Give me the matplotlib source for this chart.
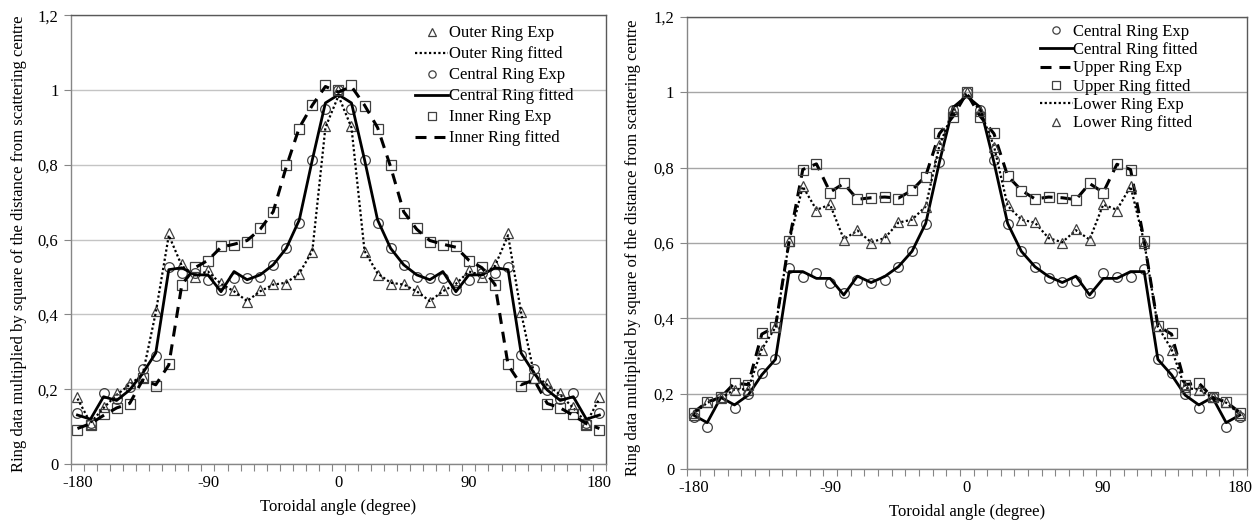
import matplotlib
matplotlib.use("Agg")
import matplotlib.pyplot as plt
from matplotlib.ticker import FixedLocator, FuncFormatter

plt.rcParams['font.family'] = ['Liberation Serif', 'DejaVu Serif']
plt.rcParams['font.size'] = 12
plt.rcParams['axes.unicode_minus'] = False

# toroidal angle categories, one per ring element
angles = list(range(-180, 181, 9))

# left chart: outer / central / inner rings
outer_exp = [0.180, 0.107, 0.153, 0.190, 0.216, 0.232, 0.410, 0.617, 0.535, 0.500, 0.520,
             0.485, 0.466, 0.433, 0.466, 0.482, 0.482, 0.508, 0.566, 0.905, 1.000,
             0.905, 0.566, 0.506, 0.482, 0.482, 0.466, 0.433, 0.466, 0.488, 0.520,
             0.500, 0.535, 0.617, 0.408, 0.229, 0.216, 0.190, 0.153, 0.107, 0.180]
outer_fit = [0.175, 0.110, 0.150, 0.185, 0.212, 0.240, 0.405, 0.612, 0.530, 0.505, 0.515,
             0.482, 0.462, 0.436, 0.462, 0.480, 0.485, 0.510, 0.570, 0.900, 0.985,
             0.900, 0.570, 0.510, 0.485, 0.480, 0.462, 0.436, 0.462, 0.482, 0.515,
             0.505, 0.530, 0.612, 0.405, 0.240, 0.212, 0.185, 0.150, 0.110, 0.175]
central_exp = [0.137, 0.110, 0.190, 0.175, 0.205, 0.254, 0.289, 0.527, 0.510, 0.510, 0.493,
               0.466, 0.497, 0.497, 0.500, 0.533, 0.577, 0.644, 0.814, 0.950, 1.000,
               0.950, 0.814, 0.644, 0.577, 0.533, 0.500, 0.497, 0.497, 0.466, 0.493,
               0.510, 0.510, 0.527, 0.292, 0.254, 0.198, 0.175, 0.190, 0.109, 0.137]
central_fit = [0.131, 0.120, 0.180, 0.170, 0.198, 0.243, 0.297, 0.520, 0.525, 0.506, 0.506,
               0.461, 0.515, 0.493, 0.506, 0.533, 0.577, 0.653, 0.814, 0.966, 0.988,
               0.966, 0.814, 0.653, 0.577, 0.533, 0.506, 0.493, 0.515, 0.461, 0.506,
               0.506, 0.525, 0.520, 0.297, 0.243, 0.198, 0.170, 0.180, 0.120, 0.131]
inner_exp = [0.091, 0.104, 0.133, 0.149, 0.160, 0.229, 0.210, 0.267, 0.479, 0.528, 0.542,
             0.582, 0.585, 0.595, 0.631, 0.673, 0.799, 0.896, 0.961, 1.015, 1.000,
             1.015, 0.958, 0.896, 0.800, 0.671, 0.631, 0.595, 0.585, 0.582, 0.542,
             0.527, 0.479, 0.267, 0.210, 0.229, 0.160, 0.149, 0.133, 0.104, 0.091]
inner_fit = [0.095, 0.108, 0.130, 0.150, 0.162, 0.225, 0.212, 0.265, 0.480, 0.525, 0.545,
             0.580, 0.588, 0.598, 0.628, 0.675, 0.795, 0.900, 0.960, 1.010, 0.995,
             1.010, 0.960, 0.900, 0.795, 0.675, 0.628, 0.598, 0.588, 0.580, 0.545,
             0.525, 0.480, 0.265, 0.212, 0.225, 0.162, 0.150, 0.130, 0.108, 0.095]

# right chart: central / upper / lower rings
central_exp_r = [0.139, 0.111, 0.188, 0.161, 0.198, 0.256, 0.291, 0.533, 0.511, 0.519, 0.493,
                 0.468, 0.502, 0.495, 0.502, 0.535, 0.580, 0.650, 0.816, 0.953, 1.000,
                 0.953, 0.820, 0.650, 0.580, 0.537, 0.507, 0.497, 0.500, 0.466, 0.519,
                 0.511, 0.511, 0.530, 0.291, 0.256, 0.198, 0.161, 0.190, 0.111, 0.137]
central_fit_r = [0.143, 0.123, 0.190, 0.170, 0.196, 0.250, 0.291, 0.524, 0.524, 0.506, 0.506,
                 0.462, 0.512, 0.495, 0.511, 0.537, 0.578, 0.652, 0.814, 0.960, 0.990,
                 0.960, 0.814, 0.652, 0.578, 0.537, 0.511, 0.495, 0.512, 0.462, 0.506,
                 0.506, 0.524, 0.524, 0.291, 0.250, 0.196, 0.170, 0.190, 0.123, 0.143]
upper_exp = [0.150, 0.178, 0.190, 0.228, 0.224, 0.358, 0.378, 0.605, 0.795, 0.810, 0.735,
             0.758, 0.716, 0.720, 0.722, 0.719, 0.740, 0.778, 0.890, 0.936, 0.998,
             0.936, 0.890, 0.778, 0.740, 0.717, 0.722, 0.720, 0.715, 0.758, 0.734,
             0.809, 0.795, 0.605, 0.380, 0.358, 0.224, 0.228, 0.190, 0.178, 0.150]
upper_fit = [0.148, 0.179, 0.190, 0.229, 0.223, 0.360, 0.378, 0.605, 0.795, 0.811, 0.734,
             0.760, 0.716, 0.720, 0.723, 0.718, 0.741, 0.776, 0.893, 0.934, 1.000,
             0.934, 0.893, 0.778, 0.739, 0.716, 0.723, 0.720, 0.714, 0.760, 0.733,
             0.810, 0.795, 0.605, 0.380, 0.360, 0.223, 0.229, 0.190, 0.179, 0.148]
lower_exp = [0.145, 0.176, 0.188, 0.211, 0.212, 0.318, 0.376, 0.604, 0.750, 0.688, 0.702,
             0.610, 0.633, 0.602, 0.613, 0.654, 0.662, 0.697, 0.858, 0.950, 0.998,
             0.950, 0.857, 0.699, 0.662, 0.654, 0.613, 0.602, 0.634, 0.609, 0.702,
             0.688, 0.750, 0.602, 0.378, 0.318, 0.215, 0.211, 0.190, 0.176, 0.145]
lower_fit = [0.143, 0.177, 0.188, 0.210, 0.210, 0.316, 0.378, 0.604, 0.751, 0.686, 0.703,
             0.608, 0.634, 0.601, 0.612, 0.655, 0.661, 0.696, 0.860, 0.950, 1.000,
             0.950, 0.856, 0.700, 0.661, 0.655, 0.612, 0.601, 0.636, 0.608, 0.703,
             0.686, 0.751, 0.600, 0.380, 0.316, 0.217, 0.210, 0.190, 0.177, 0.143]

ylabel = "Ring data multiplied by square of the distance from scattering centre"
step = angles[1] - angles[0]
edges = [angles[0] - step / 2 + step * i for i in range(len(angles) + 1)]

mk = dict(linestyle='none', markerfacecolor='none', markeredgecolor='#404040',
          markeredgewidth=0.9, markersize=7)
dotted = (0, (1.0, 1.1))
dashed = (0, (3.6, 2.6))


def style_axes(ax, gridcol):
    ax.set_xlim(edges[0], edges[-1])
    ax.set_ylim(0, 1.2)
    ax.xaxis.set_major_locator(FixedLocator([-180, -90, 0, 90, 180]))
    ax.xaxis.set_minor_locator(FixedLocator(edges))
    ax.yaxis.set_major_locator(FixedLocator([0, 0.2, 0.4, 0.6, 0.8, 1.0, 1.2]))
    ax.yaxis.set_major_formatter(FuncFormatter(lambda v, p: f"{v:g}".replace('.', ',')))
    ax.tick_params(axis='x', which='major', length=0, pad=8)
    ax.tick_params(axis='x', which='minor', length=5, color='#868686', width=0.8)
    ax.tick_params(axis='y', length=5, color='#868686', width=0.8, pad=4)
    ax.grid(axis='y', color=gridcol, linewidth=1.0)
    ax.set_axisbelow(True)
    for s in ('left', 'bottom'):
        ax.spines[s].set_color('#868686')
    for s in ('top', 'right'):
        ax.spines[s].set_color('#595959')
    for s in ax.spines.values():
        s.set_linewidth(1.0)
    ax.set_xlabel("Toroidal angle (degree)", labelpad=6)
    ax.set_ylabel(ylabel)


fig = plt.figure(figsize=(12.6, 5.23), dpi=100)
ax1 = fig.add_axes([0.0563, 0.1128, 0.4246, 0.8576])
ax2 = fig.add_axes([0.5450, 0.1033, 0.4444, 0.8642])

ax1.plot(angles, outer_exp, marker='^', label="Outer Ring Exp", **mk)
ax1.plot(angles, outer_fit, color='black', lw=1.6, linestyle=dotted, label="Outer Ring fitted")
ax1.plot(angles, central_exp, marker='o', label="Central Ring Exp", **mk)
ax1.plot(angles, central_fit, color='black', lw=2.0, label="Central Ring fitted")
ax1.plot(angles, inner_exp, marker='s', label="Inner Ring Exp", **mk)
ax1.plot(angles, inner_fit, color='black', lw=2.2, linestyle=dashed, label="Inner Ring fitted")
style_axes(ax1, '#c4c4c4')
ax1.yaxis.set_label_coords(-0.082, 0.49)
ax1.legend(loc='upper left', bbox_to_anchor=(0.643, 0.978), frameon=False,
           borderpad=0, borderaxespad=0, handlelength=2.0, handletextpad=0.05,
           labelspacing=0.30, markerscale=0.75)

ax2.plot(angles, central_exp_r, marker='o', label="Central Ring Exp", **mk)
ax2.plot(angles, central_fit_r, color='black', lw=2.0, label="Central Ring fitted")
ax2.plot(angles, upper_exp, color='black', lw=2.2, linestyle=dashed, label="Upper Ring Exp")
ax2.plot(angles, upper_fit, marker='s', label="Upper Ring fitted", **mk)
ax2.plot(angles, lower_exp, color='black', lw=1.6, linestyle=dotted, label="Lower Ring Exp")
ax2.plot(angles, lower_fit, marker='^', label="Lower Ring fitted", **mk)
style_axes(ax2, '#a6a6a6')
ax2.yaxis.set_label_coords(-0.0825, 0.49)
ax2.legend(loc='upper left', bbox_to_anchor=(0.631, 0.985), frameon=False,
           borderpad=0, borderaxespad=0, handlelength=1.95, handletextpad=0.05,
           labelspacing=0.14, markerscale=0.75)

fig.savefig("out.png", dpi=100)
